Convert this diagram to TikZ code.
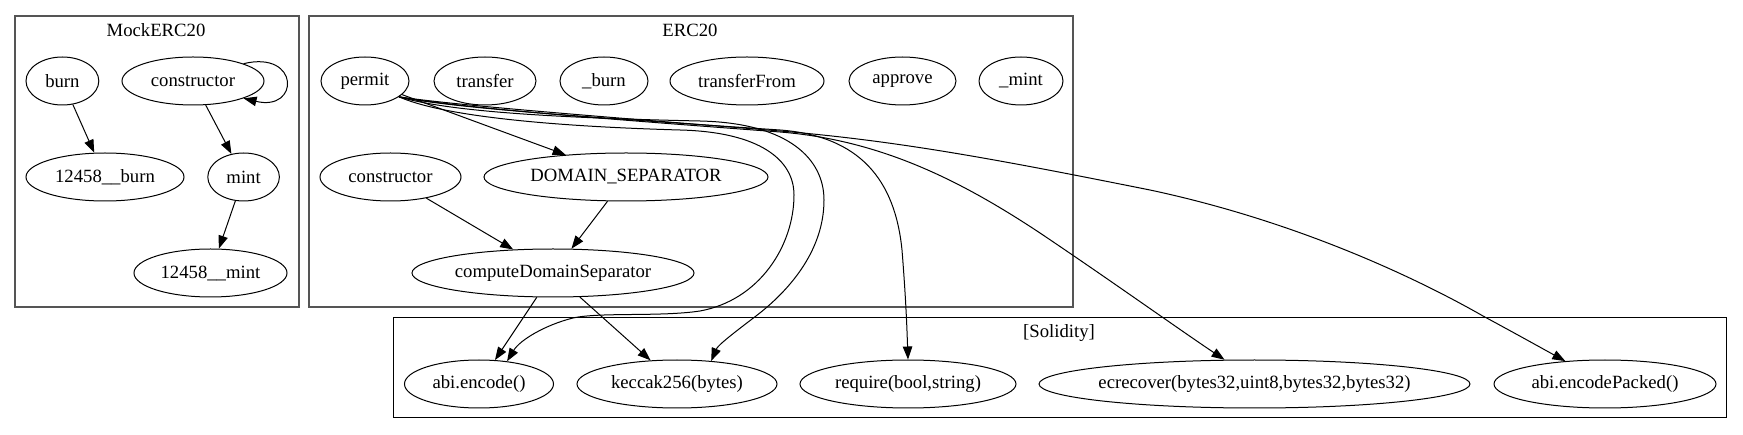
\documentclass[tikz,border=0pt]{standalone}
\usepackage{fontspec}
\setmainfont{Liberation Serif}
\usetikzlibrary{shapes.geometric,arrows.meta}
\definecolor{clgray}{RGB}{85,85,85}
\newcommand\ztxt[1]{\makebox[0pt][c]{#1}}
\tikzset{
  fn/.style={ellipse, draw=black, line width=1pt, inner sep=0pt, minimum height=48pt, font=\fontsize{18.7}{22}\selectfont},
  clusterbox/.style={draw=clgray, line width=1.4pt},
  solbox/.style={draw=black, line width=1pt},
  ctitle/.style={font=\fontsize{18.7}{22}\selectfont, inner sep=0pt},
  edge/.style={draw=black, line width=1pt, -{Triangle[length=13pt,width=9.5pt]}},
}
\begin{document}
\begin{tikzpicture}[x=1pt,y=-1pt]
\useasboundingbox (0,0) rectangle (1743,435);
\fill[white] (0,0) rectangle (1743,435);
% clusters
\draw[clusterbox] (15,16) rectangle (299,307);
\draw[clusterbox] (309,16) rectangle (1073,307);
\draw[solbox] (393,318) rectangle (1726,418);
\node[ctitle] (tmock) at (156,30) {MockERC20};
\node[ctitle] (terc) at (690,30) {ERC20};
\node[ctitle] (tsol) at (1059,333) {[Solidity]};
% MockERC20
\node[fn, minimum width=72.8pt] (mburn) at (62.4,81) {\ztxt{burn}};
\node[fn, minimum width=142pt] (mctor) at (193,81) {\ztxt{constructor}};
\node[fn, minimum width=158pt] (mburn2) at (105,177) {\ztxt{12458\_\_burn}};
\node[fn, minimum width=71.6pt] (mmint) at (243.6,177) {\ztxt{mint}};
\node[fn, minimum width=153pt] (mmint2) at (210.5,273) {\ztxt{12458\_\_mint}};
% ERC20
\node[fn, minimum width=88pt] (permit) at (365,81) {\ztxt{permit}};
\node[fn, minimum width=102pt] (transfer) at (485,81) {\ztxt{transfer}};
\node[fn, minimum width=88pt] (eburn) at (604,81) {\ztxt{\_burn}};
\node[fn, minimum width=154pt] (transferFrom) at (747,81) {\ztxt{transferFrom}};
\node[fn, minimum width=107pt] (approve) at (902.5,81) {\ztxt{approve}};
\node[fn, minimum width=84pt] (emint) at (1021,81) {\ztxt{\_mint}};
\node[fn, minimum width=141pt] (ector) at (390.5,177) {\ztxt{constructor}};
\node[fn, minimum width=284pt] (domsep) at (626,177) {\ztxt{DOMAIN\_SEPARATOR}};
\node[fn, minimum width=282pt] (compute) at (553,273) {\ztxt{computeDomainSeparator}};
% Solidity
\node[fn, minimum width=149pt] (abienc) at (479,384) {\ztxt{abi.encode()}};
\node[fn, minimum width=200pt] (keccak) at (677,384) {\ztxt{keccak256(bytes)}};
\node[fn, minimum width=216pt] (require) at (908,384) {\ztxt{require(bool,string)}};
\node[fn, minimum width=431pt] (ecrecover) at (1254.5,384) {\ztxt{ecrecover(bytes32,uint8,bytes32,bytes32)}};
\node[fn, minimum width=222pt] (encpacked) at (1605,384) {\ztxt{abi.encodePacked()}};
% edges
\draw[edge] (mburn) -- (mburn2);
\draw[edge] (mctor) -- (mmint);
\draw[edge] (mmint) -- (mmint2);
\draw[edge] (mctor.north east) .. controls (300,50) and (300,112) .. (mctor.south east);
\draw[edge] (ector) -- (compute);
\draw[edge] (domsep) -- (compute);
\draw[edge] (permit) -- (domsep);
\draw[edge] (compute) -- (abienc);
\draw[edge] (compute) -- (keccak);
\draw[edge] (permit.-25) .. controls (440,115) and (540,126) .. (680,130)
  .. controls (760,132) and (794,160) .. (794,195)
  .. controls (794,245) and (760,300) .. (700,311)
  .. controls (660,317) and (600,312) .. (573,318)
  .. controls (545,325) and (520,340) .. (abienc.39);
\draw[edge] (permit.-25) .. controls (450,112) and (560,118) .. (700,121)
  .. controls (790,123) and (824,160) .. (824,200)
  .. controls (824,250) and (790,290) .. (756,316)
  .. controls (735,332) and (718,345) .. (keccak.34);
\draw[edge] (permit.-25) .. controls (450,108) and (600,118) .. (780,130)
  .. controls (860,136) and (895,180) .. (902,250)
  .. controls (906,300) and (907,330) .. (require.north);
\draw[edge] (permit.-25) .. controls (460,108) and (620,120) .. (780,132)
  .. controls (880,140) and (960,180) .. (1040,233)
  .. controls (1110,280) and (1180,330) .. (ecrecover.141);
\draw[edge] (permit.-25) .. controls (460,106) and (620,118) .. (780,131)
  .. controls (900,141) and (1000,160) .. (1150,190)
  .. controls (1300,222) and (1420,280) .. (1483,316)
  .. controls (1520,336) and (1545,350) .. (encpacked.150);
\end{tikzpicture}
\end{document}
